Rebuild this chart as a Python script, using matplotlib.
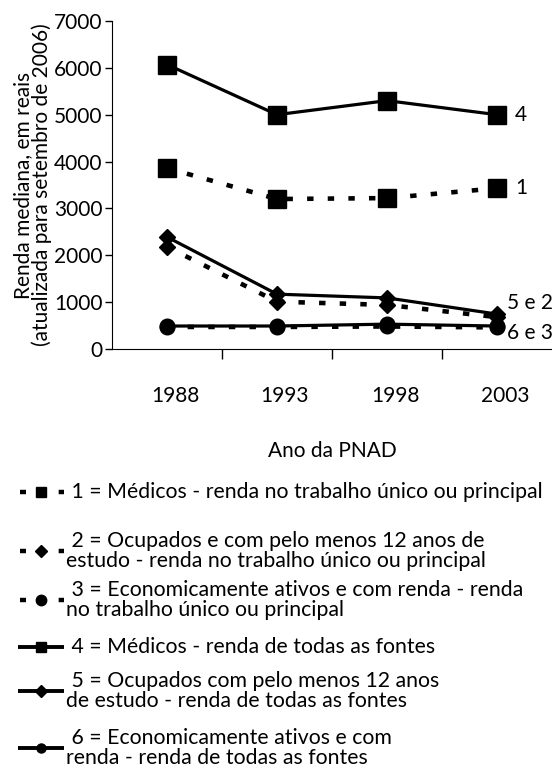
import matplotlib.pyplot as plt
from matplotlib.transforms import ScaledTranslation

plt.rcParams['font.family'] = ['Lato', 'DejaVu Sans']
plt.rcParams['font.size'] = 15

anos = ['1988', '1993', '1998', '2003']
s1 = [3860, 3200, 3220, 3430]   # Médicos - trabalho principal
s2 = [2180, 1010, 940, 680]     # Ocupados 12 anos - trabalho principal
s3 = [470, 470, 480, 460]       # Economicamente ativos - trabalho principal
s4 = [6070, 5000, 5300, 5000]   # Médicos - todas as fontes
s5 = [2390, 1170, 1090, 745]    # Ocupados 12 anos - todas as fontes
s6 = [490, 490, 530, 490]       # Economicamente ativos - todas as fontes

labels = [
    ' 1 = Médicos - renda no trabalho único ou principal',
    ' 2 = Ocupados e com pelo menos 12 anos de\nestudo - renda no trabalho único ou principal',
    ' 3 = Economicamente ativos e com renda - renda\nno trabalho único ou principal',
    ' 4 = Médicos - renda de todas as fontes',
    ' 5 = Ocupados com pelo menos 12 anos\nde estudo - renda de todas as fontes',
    ' 6 = Economicamente ativos e com\nrenda - renda de todas as fontes',
]
fim = ['4', '1', '5 e 2', '6 e 3']

fig = plt.figure(figsize=(5.52, 7.68), dpi=100)
ax = fig.add_axes([0.2029, 0.5456, 0.7971, 0.4271])

x = range(len(anos))
dot = (0, (1.4, 3.1))
ax.plot(x, s1, color='black', lw=3.3, ls=dot, marker='s', ms=12.5)
ax.plot(x, s2, color='black', lw=3.3, ls=dot, marker='D', ms=8.5)
ax.plot(x, s3, color='black', lw=3.3, ls=dot, marker='o', ms=10.5)
ax.plot(x, s4, color='black', lw=2.3, marker='s', ms=12.5)
ax.plot(x, s5, color='black', lw=2.3, marker='D', ms=8.5)
ax.plot(x, s6, color='black', lw=2.3, marker='o', ms=10.5)

ax.annotate(fim[0], (3, s4[-1]), xytext=(13, 0), textcoords='offset points', va='center')
ax.annotate(fim[1], (3, s1[-1]), xytext=(13, 0), textcoords='offset points', va='center')
ax.annotate(fim[2], (3, s5[-1]), xytext=(7, 8), textcoords='offset points', va='center')
ax.annotate(fim[3], (3, s6[-1]), xytext=(7, -5), textcoords='offset points', va='center')

ax.set_xlim(-0.5, 3.5)
ax.set_ylim(0, 7000)
ax.set_yticks(range(0, 7001, 1000))
ax.tick_params(axis='y', direction='out', length=5, width=1, pad=2)
ax.set_xticks([0.5, 1.5, 2.5])
ax.set_xticklabels([])
ax.tick_params(axis='x', which='major', direction='out', length=7, width=1)
ax.set_xticks(list(x), minor=True)
ax.set_xticklabels(anos, minor=True)
ax.tick_params(axis='x', which='minor', length=0, pad=27)
shift = ScaledTranslation(8 / 100, 0, fig.dpi_scale_trans)
for t in ax.get_xticklabels(minor=True):
    t.set_transform(t.get_transform() + shift)
ax.set_xlabel('Ano da PNAD', labelpad=25)
ax.set_ylabel('Renda mediana, em reais\n(atualizada para setembro de 2006)',
              labelpad=1, linespacing=0.95)
ax.spines['top'].set_visible(False)
ax.spines['right'].set_visible(False)

# legend drawn by hand in pixel units of the figure
lg = fig.add_axes([0, 0, 1, 1])
lg.set_xlim(0, 552)
lg.set_ylim(768, 0)
lg.axis('off')
ent_y = [492, 551, 600, 647, 691, 748]
mk = ['s', 'D', 'o', 's', 'D', 'o']
mk_size = [7, 6, 7.5, 7, 6, 6.5]
for i in range(6):
    y = ent_y[i]
    if i < 3:
        lg.plot([20, 64], [y, y], color='black', lw=3.2, ls=(0, (1.35, 3.0)),
                solid_capstyle='butt', dash_capstyle='butt')
        lg.plot([41], [y], color='black', marker=mk[i], ms=mk_size[i], ls='none')
    else:
        lg.plot([18, 64], [y, y], color='black', lw=2.8, solid_capstyle='butt')
        lg.plot([41], [y], color='black', marker=mk[i], ms=mk_size[i], ls='none')
    lg.text(66, y, labels[i], va='center', ha='left', linespacing=0.95,
            fontsize=15.3)

fig.savefig('out.png', dpi=100)
